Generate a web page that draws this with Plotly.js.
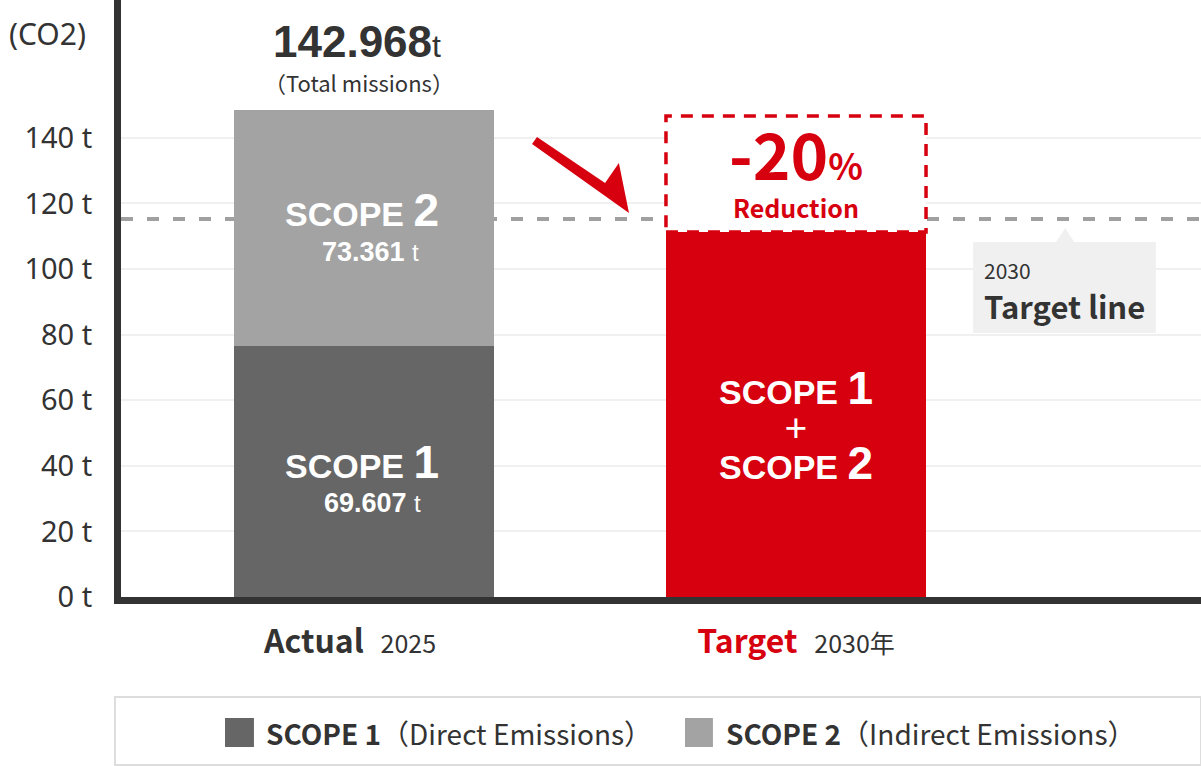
<!DOCTYPE html>
<html>
<head>
<meta charset="utf-8">
<script src="https://cdn.plot.ly/plotly-3.0.1.min.js"></script>
<style>
  body { margin: 0; background: #fff; }
  #co2chart { width: 1201px; height: 766px; }
</style>
</head>
<body>
<div id="co2chart"></div>
<script>
//          data (t)
var cats = ['Actual', 'Target'];
var scope1 = [76.5, null];
var scope2 = [72.0, null];
var target = [null, 111.3];
var targetLine = 115.2;   // 2030 target line
var reductionTop = 146.6; // top of the dashed -20% box
var yticks = [0, 20, 40, 60, 80, 100, 120, 140];
var xlabels = ['<b style="font-size:32px">Actual</b>\u00a0\u00a0 2025\u00a0\u00a0\u00a0\u00a0\u00a0',
               '<b style="font-size:32px;color:#d7000f">Target</b>\u00a0\u00a0 2030年'];

//          styling
var txt = '#333333';
var red = '#d7000f';
var cjk = 'Noto Sans CJK JP, Noto Sans, sans-serif';
var sans = 'Liberation Sans, Arial, sans-serif';
var bw = 0.602;

function scope(n)
{
  return '<b><span style="font-size:34px">SCOPE </span>' + n + '</b>';
}

function plot()
{
  var t1 = {x: cats, y: scope1, type: 'bar', name: 'SCOPE 1', width: bw,
            marker: {color: '#666666'}, hoverinfo: 'skip'};
  var t2 = {x: cats, y: scope2, type: 'bar', name: 'SCOPE 2', width: bw,
            marker: {color: '#a3a3a3'}, hoverinfo: 'skip'};
  var t3 = {x: cats, y: target, type: 'bar', name: 'Target', width: bw,
            marker: {color: red}, hoverinfo: 'skip'};

  var white = {color: '#ffffff', family: sans, size: 46};
  var annos = [
    // unit
    {xref: 'paper', yref: 'paper', x: -0.0676, y: 0.9447, xanchor: 'center', yanchor: 'middle',
     text: '(CO2)', showarrow: false,
     font: {family: 'Noto Sans, sans-serif', size: 30, color: txt}},
    // total
    {x: 0, y: 169.2, text: '<b>142.968</b><span style="font-size:32px">t</span>', showarrow: false, xshift: -7,
     font: {family: sans, size: 44, color: txt}},
    {x: 0, y: 157.0, text: '（Total missions）', showarrow: false, xshift: -5,
     font: {family: cjk, size: 22, color: txt}},
    // inside the actual bar
    {x: 0, y: 118.0, text: scope('2'), showarrow: false, xshift: -2, font: white},
    {x: 0, y: 105.2, text: '<b>73.361</b> <span style="font-size:24px">t</span>', showarrow: false, xshift: 6,
     font: {color: '#ffffff', family: sans, size: 27}},
    {x: 0, y: 41.2, text: scope('1'), showarrow: false, xshift: -2, font: white},
    {x: 0, y: 28.7, text: '<b>69.607</b> <span style="font-size:24px">t</span>', showarrow: false, xshift: 8,
     font: {color: '#ffffff', family: sans, size: 27}},
    // inside the target bar
    {x: 1, y: 52.3, showarrow: false,
     text: '<span style="font-size:46px">' + scope('1') + '</span><br>' +
           '<span style="font-size:40px;font-family:Noto Sans">+</span><br>' +
           '<span style="font-size:46px">' + scope('2') + '</span>',
     font: {color: '#ffffff', family: sans, size: 29}},
    // reduction box
    {x: 1, y: 131.4, showarrow: false,
     text: '<b><span style="font-size:64px">-20</span><span style="font-size:36px">%</span><br>' +
           '<span style="font-size:25px">Reduction</span></b>',
     font: {family: cjk, size: 29, color: red}},
    // target line callout
    {x: 1.431, y: 99.7, xanchor: 'left', text: '2030', showarrow: false,
     font: {family: cjk, size: 21, color: txt}},
    {x: 1.431, y: 89.0, xanchor: 'left', text: '<b>Target line</b>', showarrow: false,
     font: {family: cjk, size: 31, color: txt}},
    // legend
    {xref: 'paper', yref: 'paper', x: 0.1324, y: -0.2278, xanchor: 'left', yanchor: 'middle', showarrow: false,
     text: '<b>SCOPE 1</b>（Direct Emissions）', font: {family: cjk, size: 28, color: txt}},
    {xref: 'paper', yref: 'paper', x: 0.5583, y: -0.2278, xanchor: 'left', yanchor: 'middle', showarrow: false,
     text: '<b>SCOPE 2</b>（Indirect Emissions）', font: {family: cjk, size: 28, color: txt}}
  ];

  var shapes = [
    // dashed target line, behind the bars
    {type: 'line', xref: 'paper', x0: 0, x1: 1, y0: targetLine, y1: targetLine, layer: 'below',
     line: {color: '#a0a0a0', width: 4, dash: '12px,14px'}},
    // -20% box
    {type: 'rect', x0: 1 - bw / 2, x1: 1 + bw / 2, y0: target[1], y1: reductionTop, layer: 'above',
     fillcolor: '#ffffff', line: {color: red, width: 3.5, dash: '12px,9px'}},
    // arrow
    {type: 'path', path: 'M 0.4005,140.2 L 0.558,126.2 L 0.590,132.3 L 0.6134,117.1 L 0.389,138.1 Z',
     fillcolor: red, line: {width: 0}},
    // callout box and pointer
    {type: 'rect', x0: 1.41, x1: 1.833, y0: 80.5, y1: 108.2, fillcolor: '#f0f0f0', line: {width: 0}},
    {type: 'path', path: 'M 1.602,108.2 L 1.623,112.5 L 1.644,108.2 Z', fillcolor: '#f0f0f0', line: {width: 0}},
    // legend frame and swatches
    {type: 'rect', xref: 'paper', yref: 'paper', x0: -0.0056, x1: 1.0, y0: -0.2814, y1: -0.1675,
     line: {color: '#dddddd', width: 2}},
    {type: 'rect', xref: 'paper', yref: 'paper', x0: 0.0963, x1: 0.1231, y0: -0.2513, y1: -0.2027,
     fillcolor: '#666666', line: {width: 0}},
    {type: 'rect', xref: 'paper', yref: 'paper', x0: 0.5222, x1: 0.5481, y0: -0.2513, y1: -0.2027,
     fillcolor: '#a3a3a3', line: {width: 0}}
  ];

  var layout = {
    width: 1201,
    height: 766,
    margin: {l: 121, r: 0, t: 0, b: 169},
    paper_bgcolor: '#ffffff',
    plot_bgcolor: '#ffffff',
    barmode: 'stack',
    showlegend: false,
    xaxis: {
      type: 'category',
      range: [-0.5625, 1.9375],
      tickvals: cats,
      ticktext: xlabels,
      ticks: '',
      ticklabelstandoff: 19,
      tickfont: {family: cjk, size: 25, color: txt},
      showline: true, linecolor: '#333333', linewidth: 7,
      showgrid: false, fixedrange: true
    },
    yaxis: {
      range: [0, 182],
      tickmode: 'array',
      tickvals: yticks,
      ticktext: yticks.map(function (v) { return v + ' t'; }),
      ticks: '',
      ticklabelstandoff: 16,
      tickfont: {family: 'Noto Sans, sans-serif', size: 29, color: txt},
      showline: true, linecolor: '#333333', linewidth: 7,
      showgrid: true, gridcolor: '#f0f0f0', gridwidth: 2,
      zeroline: false, fixedrange: true
    },
    annotations: annos,
    shapes: shapes
  };

  Plotly.newPlot('co2chart', [t1, t2, t3], layout, {displayModeBar: false, staticPlot: true});
}

plot();
</script>
</body>
</html>
